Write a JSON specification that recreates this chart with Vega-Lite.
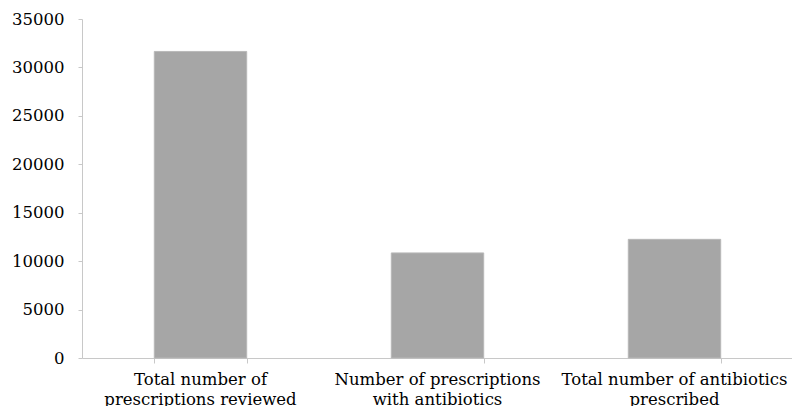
{
  "$schema": "https://vega.github.io/schema/vega-lite/v6.json",
  "width": 711,
  "height": 339,
  "autosize": {"type": "none"},
  "padding": {"left": 82, "top": 19, "right": 0, "bottom": 48},
  "background": "white",
  "config": {"view": {"stroke": null}},
  "data": {
    "values": [
      {"category": "Total number of prescriptions reviewed", "value": 31650},
      {"category": "Number of prescriptions with antibiotics", "value": 10850},
      {"category": "Total number of antibiotics prescribed", "value": 12250}
    ]
  },
  "encoding": {
    "y": {
      "field": "value",
      "type": "quantitative",
      "scale": {"domain": [0, 35000], "nice": false},
      "axis": {
        "title": null,
        "values": [0, 5000, 10000, 15000, 20000, 25000, 30000, 35000],
        "grid": false,
        "format": "d",
        "labelFont": "DejaVu Serif",
        "labelFontSize": 16.5,
        "labelColor": "#000000",
        "labelPadding": 14,
        "tickSize": 4,
        "tickColor": "#c8c8c8",
        "domainColor": "#c8c8c8"
      }
    }
  },
  "layer": [
    {
      "mark": {"type": "bar", "opacity": 0},
      "encoding": {
        "x": {
          "field": "category",
          "type": "nominal",
          "sort": null,
          "scale": {"paddingInner": 0.61, "paddingOuter": 0.305},
          "axis": {
            "title": null,
            "orient": "bottom",
            "labels": false,
            "tickBand": "extent",
            "tickSize": 5,
            "tickColor": "#c8c8c8",
            "domainColor": "#c8c8c8"
          }
        }
      }
    },
    {
      "mark": {"type": "bar", "color": "#a6a6a6", "stroke": "#b8b8b8", "strokeWidth": 1},
      "encoding": {
        "x": {
          "field": "category",
          "type": "nominal",
          "sort": null,
          "scale": {"paddingInner": 0.61, "paddingOuter": 0.305},
          "axis": {
            "title": null,
            "orient": "bottom",
            "labelAngle": 0,
            "labelFont": "DejaVu Serif",
            "labelFontSize": 16.5,
            "labelColor": "#000000",
            "labelLineHeight": 20,
            "labelPadding": 13,
            "ticks": false,
            "domain": false,
            "labelLimit": 300,
            "labelExpr": "datum.value == 'Total number of prescriptions reviewed' ? ['Total number of', 'prescriptions reviewed'] : datum.value == 'Number of prescriptions with antibiotics' ? ['Number of prescriptions', 'with antibiotics'] : ['Total number of antibiotics', 'prescribed']"
          }
        }
      }
    }
  ],
  "resolve": {"axis": {"x": "independent"}}
}
